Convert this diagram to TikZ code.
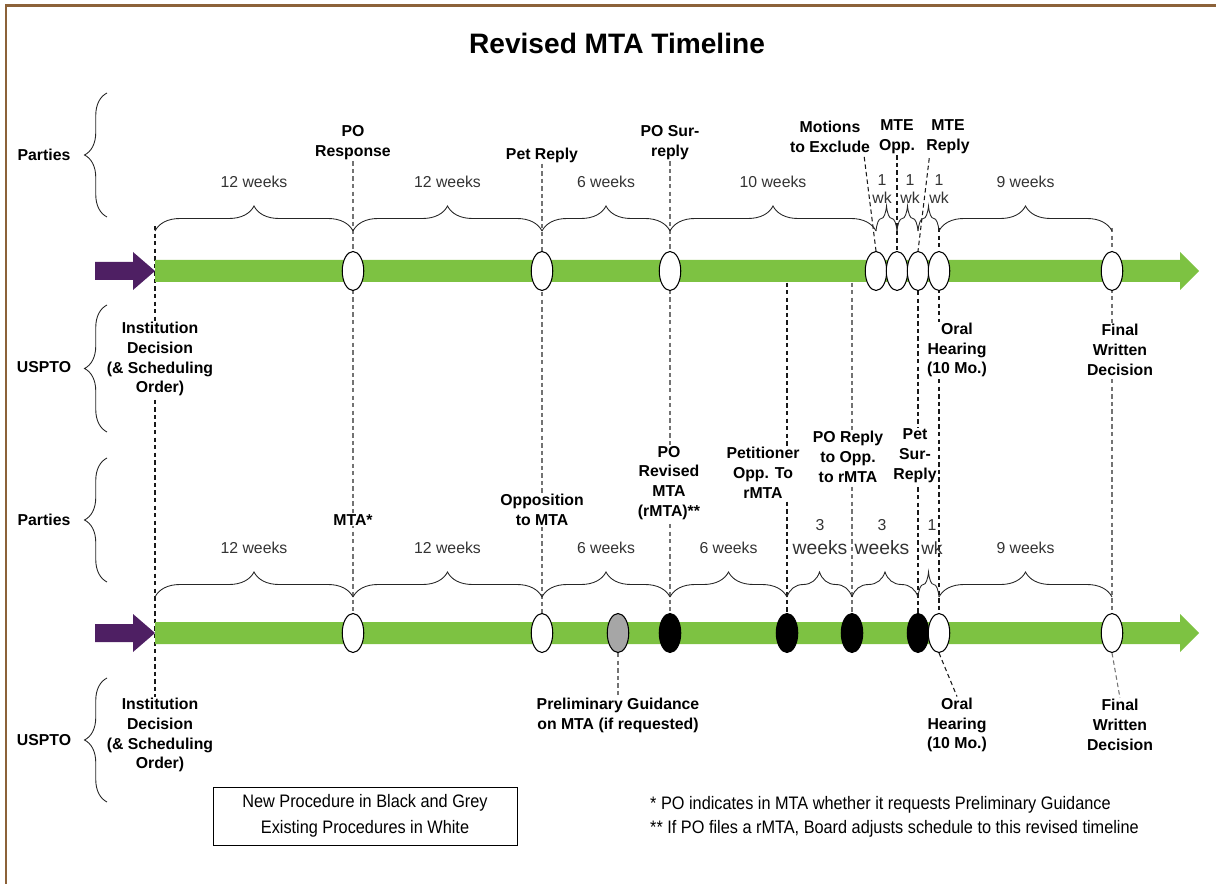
\documentclass[tikz,border=0pt]{standalone}
\usepackage{fontspec}
\setmainfont{Liberation Sans}
\newfontfamily\narrowsf[FakeStretch=0.9]{Liberation Sans}
\usepackage{tikz}
\usetikzlibrary{shapes.geometric,decorations.pathreplacing,calc,backgrounds}
\definecolor{barGreen}{RGB}{125,194,66}
\definecolor{startPurple}{RGB}{78,31,99}
\definecolor{frameBrown}{RGB}{140,98,57}
\definecolor{guideGrey}{RGB}{166,166,166}

\begin{document}
\begin{tikzpicture}[x=0.02cm, y=-0.02cm,
    evt/.style={ellipse, draw=black, line width=0.6pt, fill=white, minimum width=0.43cm, minimum height=0.78cm, inner sep=0pt},
    evtnew/.style={evt, fill=black},
    lbl/.style={font=\fontsize{9}{11.3}\selectfont\bfseries, align=center, fill=white, inner sep=0.5pt},
    side/.style={font=\fontsize{9}{11}\selectfont\bfseries},
    wk/.style={font=\fontsize{9}{10.2}\selectfont, text=black!80, align=center},
    wkbrace/.style={decorate, decoration={brace, amplitude=0.5cm}, line width=0.5pt, black!85},
    sidebrace/.style={decorate, decoration={brace, amplitude=0.45cm}, line width=0.5pt, black!85},
    guide/.style={dash pattern=on 2.5pt off 1.8pt, line width=0.6pt, black!90},
    guidegrey/.style={guide, black!55},
    note/.style={font=\narrowsf\fontsize{10.3}{14.7}\selectfont, align=center}]
    \useasboundingbox (0,0) rectangle (1216,884);

    % Frame and title
    \draw[frameBrown, line width=0.06cm] (6,884) -- (6,6) -- (1216,6);
    \node[font=\bfseries\fontsize{16}{19}\selectfont] (title) at (617,43) {Revised MTA Timeline};

    % Side groups
    \node[side] (parties_top) at (44,155) {Parties};
    \node[side] (uspto_top) at (44,367) {USPTO};
    \node[side] (parties_low) at (44,520) {Parties};
    \node[side] (uspto_low) at (44,740) {USPTO};
    \draw[sidebrace] (107,217) -- (107,93);
    \draw[sidebrace] (107,432) -- (107,305);
    \draw[sidebrace] (107,582) -- (107,458);
    \draw[sidebrace] (107,802) -- (107,678);

    % Existing timeline events
    \node[evt] (resp) at (353,271) {};
    \node[evt] (petrep) at (542,271) {};
    \node[evt] (sur) at (670,271) {};
    \node[evt] (mte1) at (876,271) {};
    \node[evt] (mte2) at (897,271) {};
    \node[evt] (mte3) at (918,271) {};
    \node[evt] (oral) at (939,271) {};
    \node[evt] (fwd) at (1112,271) {};

    % Revised timeline events
    \node[evt] (mta) at (353,633) {};
    \node[evt] (opp) at (542,633) {};
    \node[evt, fill=guideGrey] (guid) at (618,633) {};
    \node[evtnew] (rmta) at (670,633) {};
    \node[evtnew] (petopp) at (787,633) {};
    \node[evtnew] (poreply) at (852,633) {};
    \node[evtnew] (petsur) at (918,633) {};
    \node[evt] (oral2) at (939,633) {};
    \node[evt] (fwd2) at (1112,633) {};

    % Labels, existing timeline
    \node[lbl] (resp_lbl) at (353,143) {PO\\Response};
    \node[lbl] (petrep_lbl) at (542,155) {Pet Reply};
    \node[lbl] (sur_lbl) at (670,143) {PO Sur-\\reply};
    \node[lbl] (mot_lbl) at (830,137) {Motions\\to Exclude};
    \node[lbl] (mteopp_lbl) at (897,137) {MTE\\Opp.};
    \node[lbl] (mterep_lbl) at (948,137) {MTE\\Reply};
    \node[lbl] (inst_lbl) at (160,359) {Institution\\Decision\\(\& Scheduling\\Order)};
    \node[lbl] (oral_lbl) at (957,350) {Oral\\Hearing\\(10 Mo.)};
    \node[lbl] (fwd_lbl) at (1120,350) {Final\\Written\\Decision};

    % Labels, revised timeline
    \node[lbl] (mta_lbl) at (353,520) {MTA*};
    \node[lbl] (opp_lbl) at (542,510) {Opposition\\to MTA};
    \node[lbl] (rmta_lbl) at (669,483) {PO\\Revised\\MTA\\(rMTA)**};
    \node[lbl] (petopp_lbl) at (763,473) {Petitioner\\Opp. To\\rMTA};
    \node[lbl] (poreply_lbl) at (848,457) {PO Reply\\to Opp.\\to rMTA};
    \node[lbl] (petsur_lbl) at (915,456) {Pet\\Sur-\\Reply};
    \node[lbl] (inst_lbl2) at (160,735) {Institution\\Decision\\(\& Scheduling\\Order)};
    \node[lbl] (guid_lbl) at (618,715) {Preliminary Guidance\\on MTA (if requested)};
    \node[lbl] (oral_lbl2) at (957,725) {Oral\\Hearing\\(10 Mo.)};
    \node[lbl] (fwd_lbl2) at (1120,725) {Final\\Written\\Decision};

    % Durations, existing timeline
    \foreach \a/\b/\t in {155/353/12 weeks, 353/542/12 weeks, 542/670/6 weeks, 670/876/10 weeks, 939/1112/9 weeks}{
        \draw[wkbrace] (\a,231) -- (\b,231);
        \node[wk] at ({(\a+\b)/2},182) {\t};
    }
    \foreach \a/\b/\m in {876/897/882, 897/918/910, 918/939/939}{
        \draw[wkbrace] (\a,231) -- (\b,231);
        \node[wk] at (\m,189) {1\\wk};
    }

    % Durations, revised timeline
    \foreach \a/\b/\t in {155/353/12 weeks, 353/542/12 weeks, 542/670/6 weeks, 670/787/6 weeks, 939/1112/9 weeks}{
        \draw[wkbrace] (\a,597) -- (\b,597);
        \node[wk] at ({(\a+\b)/2},548) {\t};
    }
    \foreach \a/\b in {787/852, 852/918, 918/939}{
        \draw[wkbrace] (\a,597) -- (\b,597);
    }
    \node[wk, font=\fontsize{11}{13.6}\selectfont] (three_a) at (820,537) {{\fontsize{9}{10}\selectfont 3}\\weeks};
    \node[wk, font=\fontsize{11}{13.6}\selectfont] (three_b) at (882,537) {{\fontsize{9}{10}\selectfont 3}\\weeks};
    \node[wk, font=\fontsize{10}{13.6}\selectfont] (one_wk) at (932,537) {{\fontsize{9}{10}\selectfont 1}\\wk};

    % Legend and notes
    \node[draw, line width=0.5pt, minimum width=6.08cm, minimum height=1.16cm, note] (legend) at (365,816) {New Procedure in Black and Grey\\Existing Procedures in White};
    \node[note, anchor=west] (note1) at (644,805) {* PO indicates in MTA whether it requests Preliminary Guidance};
    \node[note, anchor=west] (note2) at (644,829) {** If PO files a rMTA, Board adjusts schedule to this revised timeline};

    % Free line ends
    \coordinate (inst_top) at (155,226);
    \coordinate (inst_end) at (155,772);
    \coordinate (oral_top) at (939,228);
    \coordinate (fwd_top) at (1112,228);
    \coordinate (petopp_top) at (787,275);
    \coordinate (poreply_top) at (852,275);

    \begin{scope}[on background layer]
        % Guide lines
        \draw[guide] (inst_top) -- (inst_end);
        \draw[guidegrey] (resp_lbl.south) -- (mta.north);
        \draw[guidegrey] (petrep_lbl.south) -- (opp.north);
        \draw[guidegrey] (sur_lbl.south) -- (rmta.north);
        \draw[guide] ($(mot_lbl.south east)+(-7,3)$) -- (mte1.north);
        \draw[guide] (mteopp_lbl.south) -- (mte2.north);
        \draw[guide] ($(mterep_lbl.south west)+(4,3)$) -- (mte3.north);
        \draw[guide] (mte3.south) -- (petsur.north);
        \draw[guide] (oral_top) -- (oral2.north);
        \draw[guidegrey] (fwd_top) -- (fwd2.north);
        \draw[guide] (petopp_top) -- (petopp.north);
        \draw[guidegrey] (poreply_top) -- (poreply.north);
        \draw[guidegrey] (guid.south) -- (guid_lbl.north);
        \draw[guide] (oral2.south) -- (oral_lbl2.north);
        \draw[guidegrey] (fwd2.south) -- (fwd_lbl2.north);

        % Bars
        \fill[barGreen] (155,260) -- (1180,260) -- (1180,252) -- (1199,271) -- (1180,290) -- (1180,282) -- (155,282) -- cycle;
        \fill[startPurple] (95,262) -- (133,262) -- (133,252) -- (155,271) -- (133,290) -- (133,280) -- (95,280) -- cycle;
        \fill[barGreen] (155,622) -- (1180,622) -- (1180,614) -- (1199,633) -- (1180,652) -- (1180,644) -- (155,644) -- cycle;
        \fill[startPurple] (95,624) -- (133,624) -- (133,614) -- (155,633) -- (133,652) -- (133,642) -- (95,642) -- cycle;
    \end{scope}
\end{tikzpicture}
\end{document}
